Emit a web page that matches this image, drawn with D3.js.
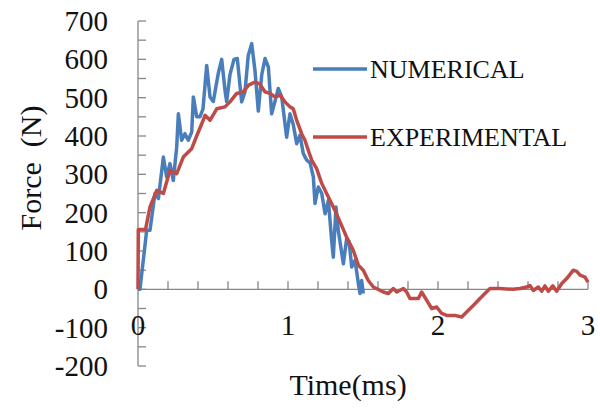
<!DOCTYPE html>
<html>
<head>
<meta charset="utf-8">
<script src="https://cdn.jsdelivr.net/npm/d3@7"></script>
<style>
  body { margin: 0; background: #fff; }
  svg text { font-family: "Liberation Serif", Tinos, "Times New Roman", Times, "DejaVu Serif", serif; fill: #111; }
</style>
</head>
<body>
<div id="chart"></div>
<script>
// numerical (simulation) force, time in ms
const numTime = [0, 0.013, 0.058, 0.08, 0.113, 0.136, 0.169, 0.191, 0.213, 0.235, 0.258, 0.269,
    0.291, 0.313, 0.335, 0.358, 0.369, 0.391, 0.413, 0.433, 0.458, 0.48, 0.502, 0.535, 0.558,
    0.58, 0.591, 0.613, 0.64, 0.662, 0.691, 0.713, 0.735, 0.758, 0.78, 0.802, 0.825, 0.847,
    0.869, 0.891, 0.913, 0.935, 0.958, 0.98, 0.991, 1.013, 1.035, 1.058, 1.08, 1.102, 1.125,
    1.147, 1.169, 1.18, 1.202, 1.225, 1.247, 1.269, 1.291, 1.302, 1.32, 1.335, 1.369, 1.391,
    1.407, 1.425, 1.447, 1.469, 1.48, 1.491, 1.502];
const numForce = [0, 0, 154, 154, 250, 237, 345, 293, 328, 284, 371, 458,
    389, 406, 389, 410, 502, 450, 450, 470, 584, 502, 490, 563, 600,
    519, 490, 560, 600, 602, 489, 515, 610, 641, 570, 465, 560, 602,
    580, 458, 490, 524, 502, 432, 397, 458, 430, 380, 402, 354, 337,
    330, 293, 224, 267, 250, 197, 232, 128, 84, 215, 154, 67, 132,
    125, 58, 76, 15, -11, 23, -11];

// experimental force
const expTime = [0, 0.002, 0.05, 0.08, 0.125, 0.169, 0.213, 0.258, 0.302, 0.358, 0.391, 0.425,
    0.447, 0.48, 0.525, 0.58, 0.613, 0.658, 0.702, 0.735, 0.78, 0.813, 0.847, 0.88, 0.913,
    0.947, 0.98, 1.013, 1.035, 1.058, 1.091, 1.113, 1.135, 1.158, 1.191, 1.225, 1.269, 1.313,
    1.347, 1.391, 1.435, 1.469, 1.502, 1.535, 1.569, 1.635, 1.669, 1.702, 1.725, 1.769, 1.791,
    1.813, 1.869, 1.891, 1.925, 1.958, 1.991, 2.025, 2.058, 2.113, 2.158, 2.191, 2.235, 2.28,
    2.313, 2.347, 2.413, 2.5, 2.547, 2.591, 2.613, 2.636, 2.669, 2.691, 2.713, 2.736, 2.765,
    2.791, 2.825, 2.858, 2.902, 2.925, 2.947, 2.98, 3.0];
const expForce = [0, 156, 156, 215, 258, 250, 310, 302, 345, 367, 400, 432,
    454, 441, 471, 476, 489, 511, 515, 532, 541, 535, 515, 511, 502,
    506, 489, 476, 471, 441, 406, 389, 363, 337, 315, 276, 241, 206,
    176, 136, 102, 63, 50, 23, 6, -7, -11, 2, -7, 2, -7,
    -24, -24, -7, -29, -50, -46, -63, -68, -68, -72, -59, -42, -24,
    -11, 2, 2, 0, 2, 6, 10, -3, 6, -5, 9, -5, 9,
    -5, 15, 28, 50, 47, 37, 32, 19];

const seriesNames = ["NUMERICAL", "EXPERIMENTAL"];
const seriesColors = ["#4a7ebb", "#be4b48"];
const xTicks = [0, 1, 2, 3];
const yTicks = [-200, -100, 0, 100, 200, 300, 400, 500, 600, 700];

const width = 600, height = 408;
const x = d3.scaleLinear().domain([0, 3]).range([138, 588]);
const y = d3.scaleLinear().domain([-200, 700]).range([366, 21]);

const svg = d3.select("#chart").append("svg")
    .attr("width", width)
    .attr("height", height);

const axisColor = "#868686";

// y axis with inside ticks every 50
const yAxis = svg.append("g").attr("transform", `translate(${x(0)},0)`);
yAxis.append("line")
    .attr("x1", 0).attr("x2", 0)
    .attr("y1", y(700)).attr("y2", y(-200))
    .attr("stroke", axisColor).attr("stroke-width", 1.3);
yAxis.selectAll(".ytick")
    .data(d3.range(-200, 701, 50))
    .enter().append("line")
    .attr("x1", 0).attr("x2", 8)
    .attr("y1", d => y(d)).attr("y2", d => y(d))
    .attr("stroke", axisColor).attr("stroke-width", 1.3);

svg.selectAll(".ylabel")
    .data(yTicks)
    .enter().append("text")
    .attr("x", 108)
    .attr("y", d => y(d))
    .attr("dy", "0.35em")
    .attr("text-anchor", "end")
    .style("font-size", "29px")
    .text(d => d);

// x axis at zero
const xAxis = svg.append("g").attr("transform", `translate(0,${y(0)})`);
xAxis.append("line")
    .attr("x1", x(0)).attr("x2", x(3))
    .attr("y1", 0).attr("y2", 0)
    .attr("stroke", axisColor).attr("stroke-width", 1.3);
xAxis.selectAll(".xtick")
    .data(d3.range(1, 16).map(i => i * 0.2))
    .enter().append("line")
    .attr("x1", d => x(d)).attr("x2", d => x(d))
    .attr("y1", 0).attr("y2", -8)
    .attr("stroke", axisColor).attr("stroke-width", 1.3);

svg.selectAll(".xlabel")
    .data(xTicks)
    .enter().append("text")
    .attr("x", d => x(d))
    .attr("y", 335)
    .attr("text-anchor", "middle")
    .style("font-size", "29px")
    .text(d => d);

// axis titles
svg.append("text")
    .attr("transform", "translate(41,168) rotate(-90)")
    .attr("text-anchor", "middle")
    .style("font-size", "30px")
    .style("white-space", "pre")
    .text("Force  (N)");

svg.append("text")
    .attr("x", 348)
    .attr("y", 395)
    .attr("text-anchor", "middle")
    .style("font-size", "30px")
    .text("Time(ms)");

// lines
const line = d3.line()
    .x(d => x(d[0]))
    .y(d => y(d[1]));

const series = [
    d3.zip(numTime, numForce),
    d3.zip(expTime, expForce)
];

svg.selectAll(".series")
    .data(series)
    .enter().append("path")
    .attr("d", line)
    .attr("fill", "none")
    .attr("stroke", (d, i) => seriesColors[i])
    .attr("stroke-width", 3.5)
    .attr("stroke-linejoin", "round");

// legend
const legend = svg.selectAll(".legend")
    .data(seriesNames)
    .enter().append("g")
    .attr("transform", (d, i) => `translate(313,${69 + i * 68})`);
legend.append("line")
    .attr("x1", 0).attr("x2", 54)
    .attr("stroke", (d, i) => seriesColors[i])
    .attr("stroke-width", 3.5);
legend.append("text")
    .attr("x", 57)
    .attr("dy", "0.35em")
    .style("font-size", "26px")
    .text(d => d);
</script>
</body>
</html>
